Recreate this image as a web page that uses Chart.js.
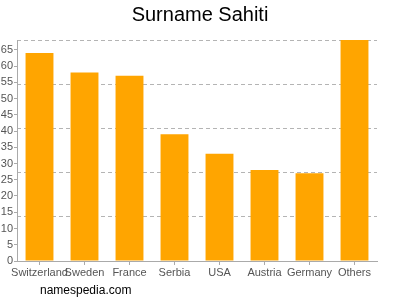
<!DOCTYPE html>
<html>
<head>
<meta charset="utf-8">
<script src="https://cdn.jsdelivr.net/npm/chart.js@4"></script>
<style>
  html, body { margin: 0; padding: 0; background: #fff; }
  #wrap { width: 400px; height: 300px; position: relative; }
</style>
</head>
<body>
<div id="wrap"><canvas id="chart" width="400" height="300"></canvas></div>
<script>
const countries = ['Switzerland', 'Sweden', 'France', 'Serbia', 'USA', 'Austria', 'Germany', 'Others'];
const counts = [64, 58, 57, 39, 33, 28, 27, 68];
const yMax = 68;
const yStep = 5;
const gridStep = 13.6;
const titleText = 'Surname Sahiti';
const footerText = 'namespedia.com';

const textPlugin = {
  id: 'texts',
  afterDraw(chart) {
    const ctx = chart.ctx;
    ctx.save();
    ctx.fillStyle = '#000';
    ctx.textBaseline = 'middle';
    ctx.font = '20px "Liberation Sans", Arial, sans-serif';
    ctx.textAlign = 'center';
    ctx.fillText(titleText, 200, 15);
    ctx.font = '12px "Liberation Sans", Arial, sans-serif';
    ctx.textAlign = 'left';
    ctx.fillText(footerText, 40, 291);
    ctx.restore();
  }
};

new Chart(document.getElementById('chart'), {
  type: 'bar',
  data: {
    labels: countries,
    datasets: [{
      data: counts,
      backgroundColor: '#FFA500',
      borderWidth: 0,
      barPercentage: 0.62,
      categoryPercentage: 1
    }]
  },
  options: {
    responsive: false,
    animation: false,
    layout: { padding: { top: 40, right: 23, left: 0, bottom: 0 } },
    plugins: { legend: { display: false }, tooltip: { enabled: false } },
    scales: {
      x: {
        grid: { drawOnChartArea: false, offset: false, tickLength: 4, color: '#aaa' },
        border: { color: '#aaa' },
        ticks: { color: '#555', font: { family: '"Liberation Sans", Arial, sans-serif', size: 11 }, maxRotation: 0, autoSkip: false, padding: 1 },
        afterFit(s) { s.height = 39; }
      },
      y: {
        min: 0,
        max: yMax,
        grid: { drawOnChartArea: false, tickLength: 3, color: '#aaa' },
        border: { color: '#aaa' },
        ticks: {
          color: '#555',
          padding: 1,
          font: { family: '"Liberation Sans", Arial, sans-serif', size: 11 }
        },
        afterBuildTicks(s) {
          const t = [];
          for (let v = 0; v <= yMax; v += yStep) t.push({ value: v });
          s.ticks = t;
        },
        afterFit(s) { s.width = 17; }
      },
      y2: {
        position: 'right',
        min: 0,
        max: yMax,
        grid: { color: '#b4b4b4', drawTicks: false },
        border: { display: false, dash: [4, 3] },
        ticks: { stepSize: gridStep, display: false },
        afterFit(s) { s.width = 0; }
      }
    }
  },
  plugins: [textPlugin]
});
</script>
</body>
</html>
